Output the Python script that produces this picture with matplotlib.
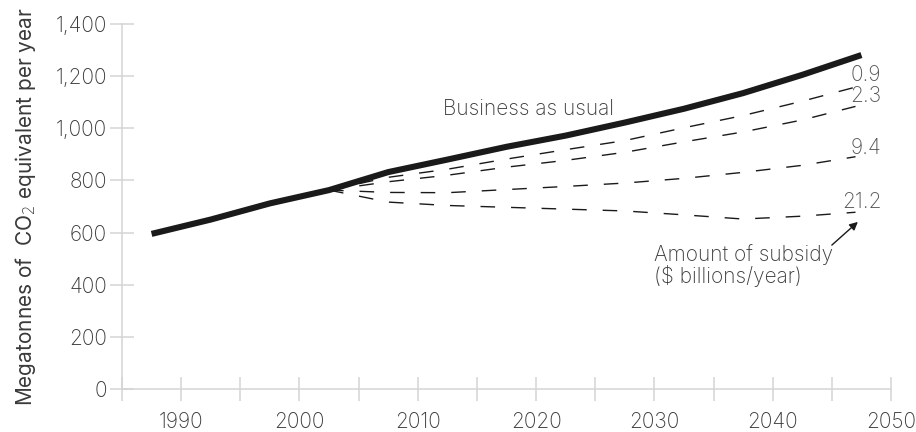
import matplotlib
matplotlib.use("Agg")
import matplotlib.pyplot as plt

plt.rcParams.update({
    "font.family": ["Inter", "DejaVu Sans"],
    "font.weight": "light",
    "font.size": 15,
    "text.color": "#3a3a3a",
    "axes.labelcolor": "#3a3a3a",
    "xtick.color": "#d4d4d4",
    "ytick.color": "#d4d4d4",
    "xtick.labelcolor": "#3a3a3a",
    "ytick.labelcolor": "#3a3a3a",
})

# business-as-usual emissions (Mt CO2e per year)
bau_years = [1987.5, 1992.5, 1997.5, 2002.5, 2007.5, 2012.5, 2017.5,
             2022.5, 2027.5, 2032.5, 2037.5, 2042.5, 2047.5]
bau_vals = [595, 650, 712, 763, 832, 880, 929, 972, 1022, 1075, 1135, 1205, 1281]

# subsidy scenarios branch off BAU in 2002.5
sub_years = [2002.5, 2007.5, 2012.5, 2017.5, 2022.5, 2027.5, 2032.5,
             2037.5, 2042.5, 2047.0]
sub_09 = [763, 812, 843, 882, 918, 953, 1002, 1049, 1104, 1158]
sub_23 = [763, 795, 820, 851, 877, 908, 948, 986, 1032, 1084]
sub_94 = [763, 754, 753, 765, 777, 790, 808, 831, 858, 891]
sub_212 = [763, 717, 704, 697, 690, 683, 668, 652, 663, 678]
sub_labels = ["0.9", "2.3", "9.4", "21.2"]
label_y = [1183, 1099, 903, 696]

x_major = [1990, 2000, 2010, 2020, 2030, 2040, 2050]
x_minor = [1985, 1995, 2005, 2015, 2025, 2035, 2045]
y_ticks = [0, 200, 400, 600, 800, 1000, 1200, 1400]

fig = plt.figure(figsize=(9.16, 4.32), dpi=100)
ax = fig.add_axes([0.1332, 0.0995, 0.8395, 0.8449])

ax.plot(bau_years, bau_vals, color="#1a1a1a", lw=4.4, solid_capstyle="butt",
        solid_joinstyle="round", zorder=3)
for vals in (sub_09, sub_23, sub_94, sub_212):
    ax.plot(sub_years, vals, color="#1a1a1a", lw=1.0,
            linestyle=(0, (10.5, 11.5)), zorder=2)

for lab, ly in zip(sub_labels, label_y):
    ax.text(2049.2, ly, lab, ha="right", va="baseline", color="#555555")

ax.text(2012.1, 1051, "Business as usual", ha="left", va="baseline")
ax.text(2030.0, 491, "Amount of subsidy", ha="left", va="baseline")
ax.text(2030.0, 407, "($ billions/year)", ha="left", va="baseline")
ax.annotate("", xy=(2047.2, 641), xytext=(2045.0, 552),
            arrowprops=dict(arrowstyle="-|>", color="#1a1a1a", lw=1.0,
                            mutation_scale=12, shrinkA=0, shrinkB=0))

ax.set_xlim(1985, 2050)
ax.set_ylim(0, 1400)
ax.set_xticks(x_major)
ax.set_xticks(x_minor, minor=True)
ax.set_yticks(y_ticks)
ax.set_yticklabels([f"{v:,}" for v in y_ticks])

for s in ("top", "right"):
    ax.spines[s].set_visible(False)
for s in ("left", "bottom"):
    ax.spines[s].set_color("#d4d4d4")
    ax.spines[s].set_linewidth(1.1)
ax.tick_params(which="both", direction="inout", length=17.5, width=1.1)
ax.tick_params(axis="x", which="major", pad=8)
ax.tick_params(axis="y", pad=2)

ax.set_ylabel("Megatonnes of  CO$_2$ equivalent per year", labelpad=13)

fig.savefig("out.png")
